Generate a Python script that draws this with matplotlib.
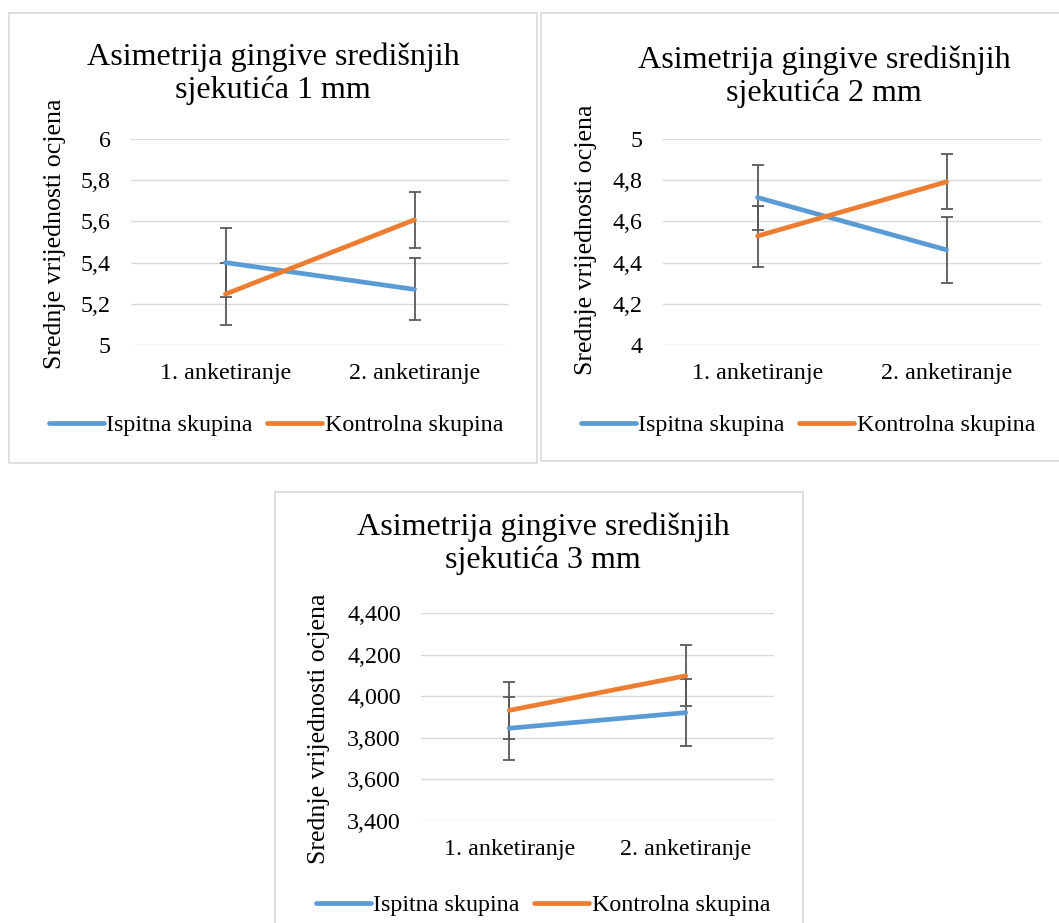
import numpy as np
import matplotlib
matplotlib.use("Agg")
import matplotlib.pyplot as plt
from matplotlib.patches import Rectangle
from matplotlib.ticker import FuncFormatter

plt.rcParams['font.family'] = ['Liberation Serif', 'DejaVu Serif']

W, H = 1059, 923

categories = ['1. anketiranje', '2. anketiranje']
series_names = ['Ispitna skupina', 'Kontrolna skupina']
colors = ['#5b9bd5', '#ed7d31']

titles = ['Asimetrija gingive središnjih\nsjekutića 1 mm',
          'Asimetrija gingive središnjih\nsjekutića 2 mm',
          'Asimetrija gingive središnjih\nsjekutića 3 mm']

# mean values and error (+/-) per chart
ispitna_1mm = [5.40, 5.27]
ispitna_1mm_err = [0.168, 0.15]
kontrolna_1mm = [5.247, 5.608]
kontrolna_1mm_err = [0.15, 0.137]

ispitna_2mm = [4.716, 4.462]
ispitna_2mm_err = [0.158, 0.16]
kontrolna_2mm = [4.529, 4.792]
kontrolna_2mm_err = [0.148, 0.133]

ispitna_3mm = [3.846, 3.921]
ispitna_3mm_err = [0.152, 0.16]
kontrolna_3mm = [3.932, 4.098]
kontrolna_3mm_err = [0.137, 0.146]

yticks_1mm = [5, 5.2, 5.4, 5.6, 5.8, 6]
yticks_2mm = [4, 4.2, 4.4, 4.6, 4.8, 5]
yticks_3mm = [3.4, 3.6, 3.8, 4.0, 4.2, 4.4]


def fx(x):
    return x / W


def fy(y):
    return 1 - y / H


def comma_fmt(decimals):
    def f(v, pos):
        if decimals is None:
            s = ('%.1f' % v).rstrip('0').rstrip('.')
        else:
            s = '%.*f' % (decimals, v)
        return s.replace('.', ',')
    return FuncFormatter(f)


fig = plt.figure(figsize=(W / 100, H / 100), dpi=100)

# chart frames (pixel boxes: x0, y0, x1, y1)
frames = [(9, 13, 537, 463), (541, 13, 1070, 461), (275, 492, 803, 935)]
for x0, y0, x1, y1 in frames:
    fig.add_artist(Rectangle((fx(x0), fy(y1)), fx(x1 - x0), (y1 - y0) / H,
                             transform=fig.transFigure, fill=False,
                             edgecolor='#d9d9d9', linewidth=1.2))

charts = [
    dict(box=(131, 139, 509, 345), title_xy=(273, 74), ylab=(55, 234),
         leg=(276, 425),
         data=[(ispitna_1mm, ispitna_1mm_err), (kontrolna_1mm, kontrolna_1mm_err)],
         yticks=yticks_1mm, dec=None),
    dict(box=(663, 139, 1041, 345), title_xy=(824, 77), ylab=(586, 240),
         leg=(808, 425),
         data=[(ispitna_2mm, ispitna_2mm_err), (kontrolna_2mm, kontrolna_2mm_err)],
         yticks=yticks_2mm, dec=None),
    dict(box=(421, 613, 774, 821), title_xy=(543, 544), ylab=(319, 729),
         leg=(543, 905),
         data=[(ispitna_3mm, ispitna_3mm_err), (kontrolna_3mm, kontrolna_3mm_err)],
         yticks=yticks_3mm, dec=3),
]

x = np.arange(len(categories))

for ch, title in zip(charts, titles):
    x0, y0, x1, y1 = ch['box']
    ax = fig.add_axes([fx(x0), fy(y1), fx(x1 - x0), (y1 - y0) / H])
    handles = []
    for (vals, errs), c, name in zip(ch['data'], colors, series_names):
        ax.errorbar(x, vals, yerr=errs, fmt='none', ecolor='#595959',
                    elinewidth=1.3, capsize=4.3, capthick=1.3, zorder=2)
    for (vals, errs), c, name in zip(ch['data'], colors, series_names):
        ln, = ax.plot(x, vals, color=c, linewidth=3.4, solid_capstyle='round',
                      zorder=3, label=name)
        handles.append(ln)
    ax.set_xlim(-0.5, 1.5)
    ax.set_ylim(ch['yticks'][0], ch['yticks'][-1])
    ax.set_yticks(ch['yticks'])
    ax.yaxis.set_major_formatter(comma_fmt(ch['dec']))
    ax.set_xticks(x)
    ax.set_xticklabels(categories)
    ax.grid(axis='y', color='#d9d9d9', linewidth=1.0, zorder=0)
    ax.set_axisbelow(True)
    for s in ax.spines.values():
        s.set_visible(False)
    ax.tick_params(length=0, labelsize=17.3, colors='#000000')
    ax.tick_params(axis='y', pad=14.5)
    ax.tick_params(axis='x', pad=13)
    ax.patch.set_alpha(0)

    lx, ly = ch['ylab']
    fig.text(fx(lx), fy(ly), 'Srednje vrijednosti ocjena',
             rotation=90, ha='center', va='center', fontsize=18.6)
    tx, ty = ch['title_xy']
    fig.text(fx(tx), fy(ty), title, ha='center', va='center', fontsize=23.1,
             linespacing=1.15)
    gx, gy = ch['leg']
    fig.legend(handles=handles, loc='center', ncol=2,
               bbox_to_anchor=(fx(gx), fy(gy)), frameon=False,
               fontsize=17.3, handlelength=2.3, handletextpad=0.1,
               columnspacing=0.6)

fig.savefig('out.png', dpi=100)
